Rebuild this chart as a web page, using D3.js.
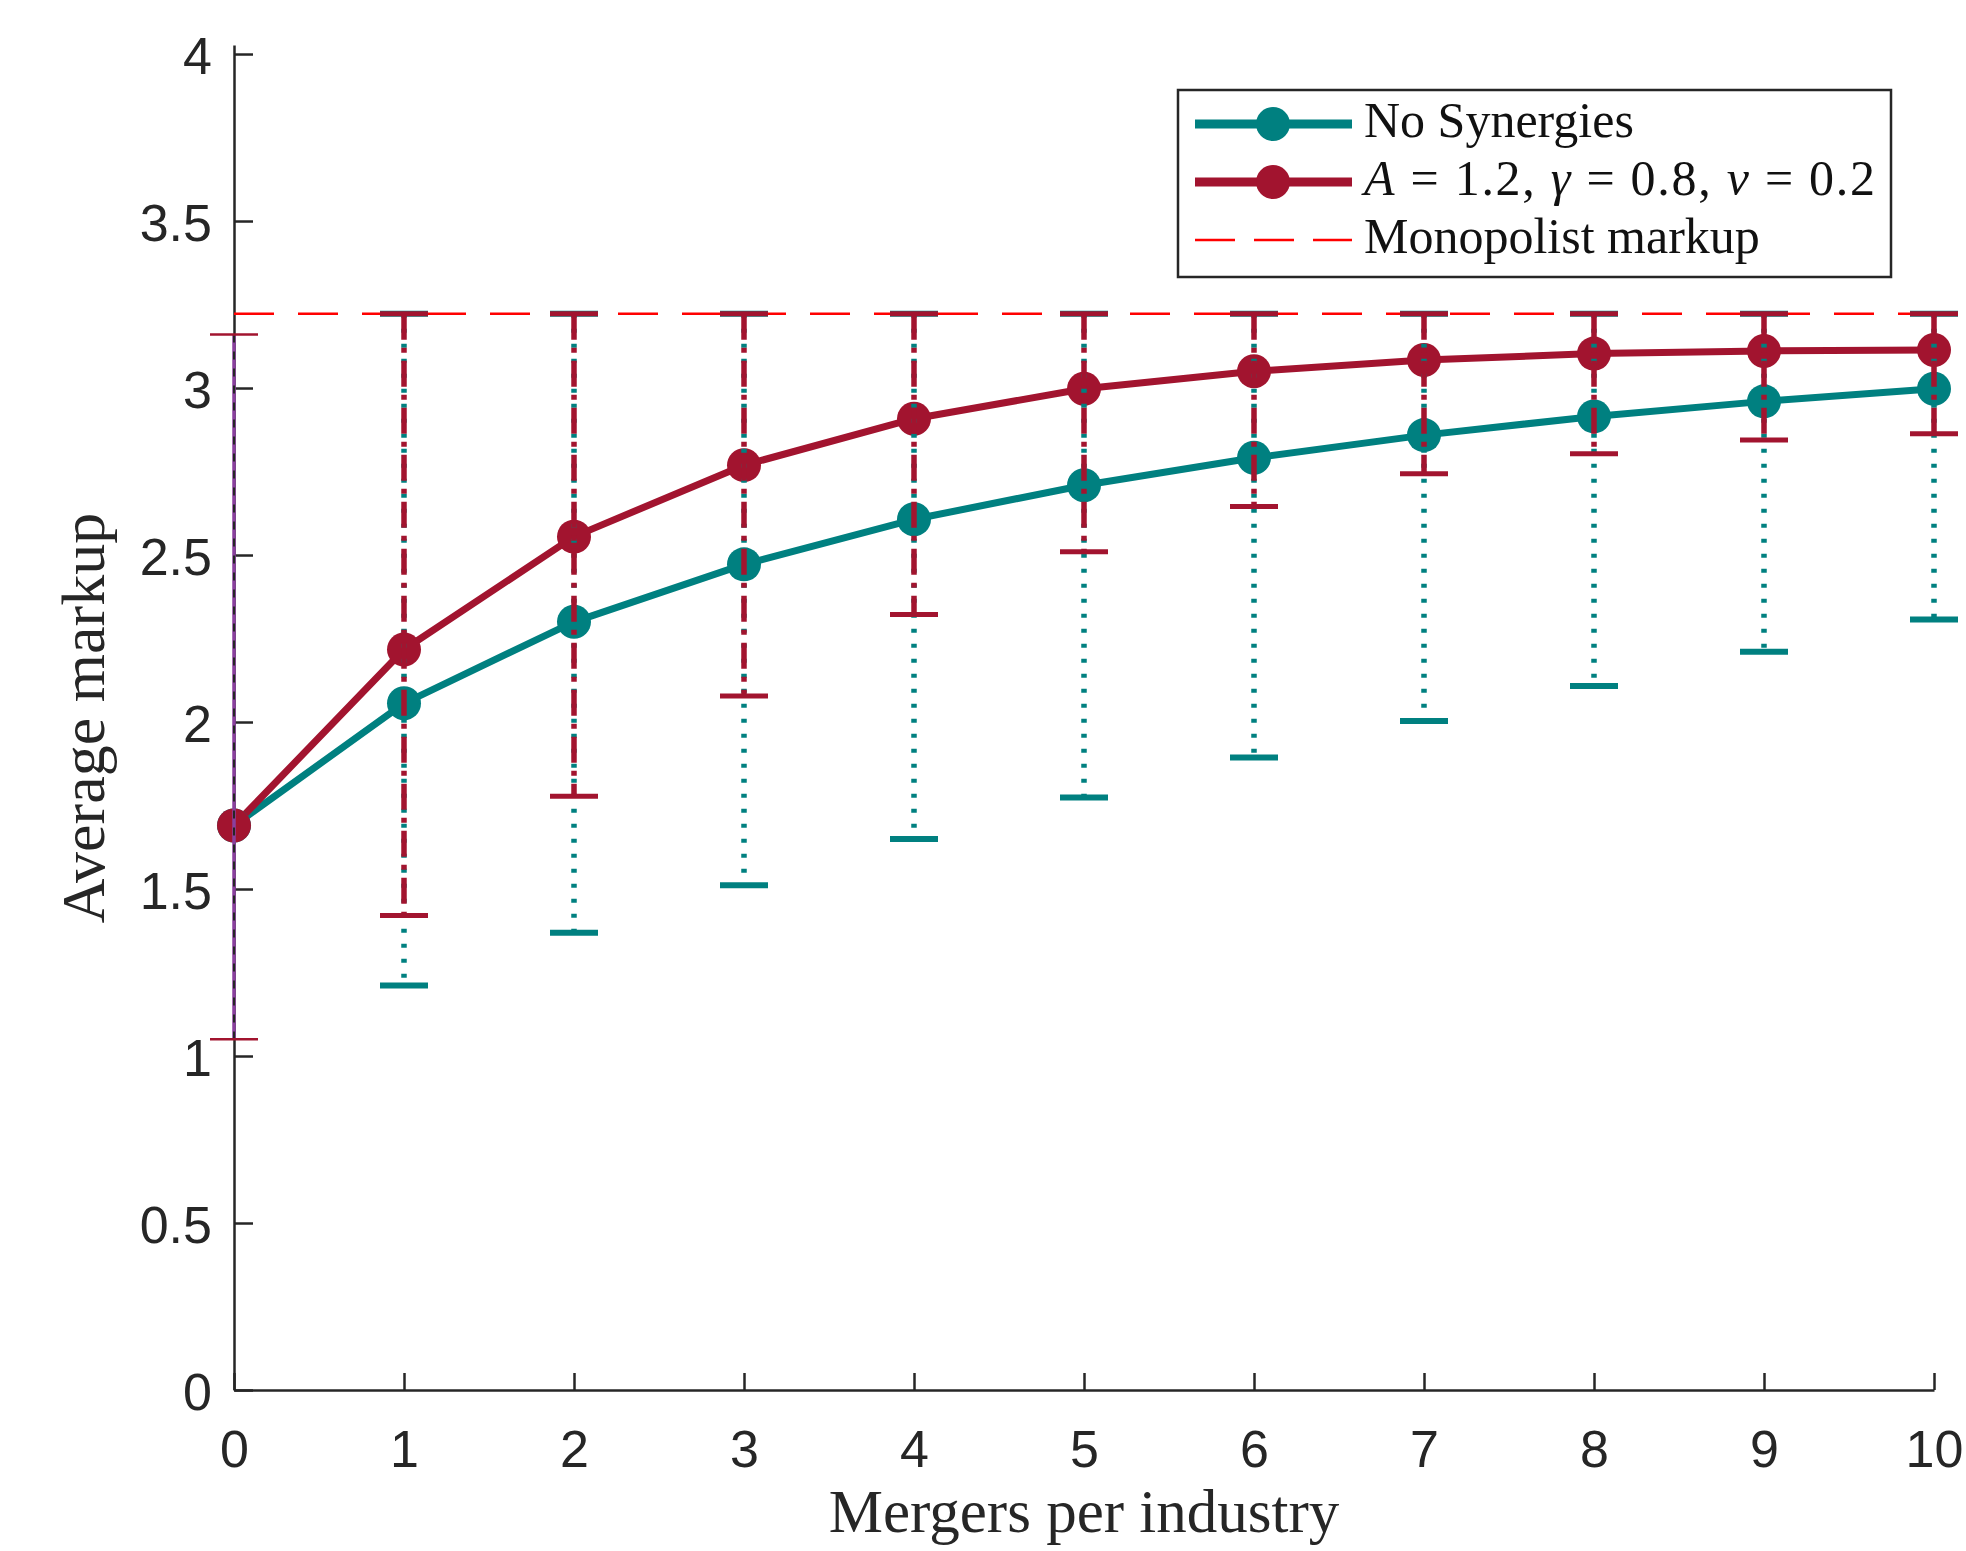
<!DOCTYPE html>
<html>
<head>
<meta charset="utf-8">
<script src="https://cdn.jsdelivr.net/npm/d3@7"></script>
<style>
  body { margin: 0; background: #fff; }
  svg { display: block; }
</style>
</head>
<body>
<svg id="chart" width="1966" height="1551"></svg>
<script>
// data
const mergers = [0, 1, 2, 3, 4, 5, 6, 7, 8, 9, 10];
const noSyn     = [1.69, 2.056, 2.300, 2.472, 2.607, 2.709, 2.791, 2.859, 2.915, 2.960, 2.998];
const noSynLow  = [1.05, 1.211, 1.369, 1.511, 1.650, 1.774, 1.894, 2.003, 2.108, 2.210, 2.307];
const noSynHigh = [3.16, 3.222, 3.222, 3.222, 3.222, 3.222, 3.222, 3.222, 3.222, 3.222, 3.222];
const syn     = [1.69, 2.217, 2.555, 2.769, 2.908, 2.998, 3.050, 3.084, 3.103, 3.111, 3.114];
const synLow  = [1.05, 1.421, 1.778, 2.078, 2.322, 2.510, 2.645, 2.743, 2.803, 2.844, 2.863];
const synHigh = [3.16, 3.222, 3.222, 3.222, 3.222, 3.222, 3.222, 3.222, 3.222, 3.222, 3.222];
const monopolist = 3.222;
const xTicks = [0, 1, 2, 3, 4, 5, 6, 7, 8, 9, 10];
const yTicks = [0, 0.5, 1, 1.5, 2, 2.5, 3, 3.5, 4];
const legendLabels = ["No Synergies", "A = 1.2, γ = 0.8, ν = 0.2", "Monopolist markup"];

const teal = "#008080", maroon = "#A2142F", red = "#FF0000", ink = "#262626";
const svg = d3.select("#chart");

const x = d3.scaleLinear().domain([0, 10]).range([234, 1934]);
const y = d3.scaleLinear().domain([0, 4.027]).range([1390, 45]);

svg.append("rect").attr("width", 1966).attr("height", 1551).attr("fill", "#fff");

// axes
const gx = svg.append("g").attr("transform", "translate(0,1390)")
  .call(d3.axisBottom(x).tickValues(xTicks).tickFormat(d3.format("d"))
    .tickSizeInner(-17).tickSizeOuter(0).tickPadding(40));
const gy = svg.append("g").attr("transform", "translate(234,0)")
  .call(d3.axisLeft(y).tickValues(yTicks).tickFormat(d => String(d))
    .tickSizeInner(-19).tickSizeOuter(0).tickPadding(22));

[gx, gy].forEach(g => {
  g.select(".domain").attr("stroke", ink).attr("stroke-width", 2.5);
  g.selectAll(".tick line").attr("stroke", ink).attr("stroke-width", 2.5);
  g.selectAll(".tick text")
    .attr("fill", ink)
    .attr("font-family", "'Liberation Sans', Arial, sans-serif")
    .attr("font-size", 52);
});
gy.selectAll(".tick text").attr("dy", "0.38em");

// axis titles
svg.append("text")
  .attr("x", (x(0) + x(10)) / 2).attr("y", 1532)
  .attr("text-anchor", "middle")
  .attr("font-family", "'Liberation Serif', 'Times New Roman', serif")
  .attr("font-size", 61).attr("fill", ink)
  .text("Mergers per industry");

svg.append("text")
  .attr("transform", "translate(104,718) rotate(-90)")
  .attr("text-anchor", "middle")
  .attr("font-family", "'Liberation Serif', 'Times New Roman', serif")
  .attr("font-size", 62).attr("fill", ink)
  .text("Average markup");

// lines
const line = vals => d3.line().x((d, i) => x(mergers[i])).y(d => y(d))(vals);
svg.append("path").attr("d", line(noSyn)).attr("fill", "none")
  .attr("stroke", teal).attr("stroke-width", 7).attr("stroke-linejoin", "round");
svg.append("path").attr("d", line(syn)).attr("fill", "none")
  .attr("stroke", maroon).attr("stroke-width", 7).attr("stroke-linejoin", "round");

svg.append("g").selectAll("circle").data(noSyn).join("circle")
  .attr("cx", (d, i) => x(mergers[i])).attr("cy", d => y(d)).attr("r", 17).attr("fill", teal);
svg.append("g").selectAll("circle").data(syn).join("circle")
  .attr("cx", (d, i) => x(mergers[i])).attr("cy", d => y(d)).attr("r", 17).attr("fill", maroon);

// monopolist markup
svg.append("line")
  .attr("x1", x(0)).attr("x2", x(10)).attr("y1", y(monopolist)).attr("y2", y(monopolist))
  .attr("stroke", red).attr("stroke-width", 2.5).attr("stroke-dasharray", "40,24");

// error bars
function errorBars(low, high, color, dash, capW) {
  const g = svg.append("g");
  const idx = mergers.slice(1).map((d, i) => i + 1);
  g.selectAll("line.v").data(idx).join("line").attr("class", "v")
    .attr("x1", i => x(mergers[i])).attr("x2", i => x(mergers[i]))
    .attr("y1", i => y(high[i])).attr("y2", i => y(low[i]))
    .attr("stroke", color).attr("stroke-width", 5.5).attr("stroke-dasharray", dash);
  ["low", "high"].forEach(k => {
    const arr = k === "low" ? low : high;
    g.selectAll("line." + k).data(idx).join("line").attr("class", k)
      .attr("x1", i => x(mergers[i]) - 24).attr("x2", i => x(mergers[i]) + 24)
      .attr("y1", i => y(arr[i])).attr("y2", i => y(arr[i]))
      .attr("stroke", color).attr("stroke-width", capW);
  });
}
errorBars(noSynLow, noSynHigh, teal, "4,11", 6);
errorBars(synLow, synHigh, maroon, "26,8,5,8", 5);

// overlapping bars at zero mergers
const x0 = x(mergers[0]);
svg.append("line").attr("x1", x0).attr("x2", x0)
  .attr("y1", y(synHigh[0])).attr("y2", y(synLow[0]))
  .attr("stroke", "#8a3f9e").attr("stroke-width", 3.5);
svg.append("line").attr("x1", x0).attr("x2", x0)
  .attr("y1", y(synHigh[0])).attr("y2", y(synLow[0]))
  .attr("stroke", ink).attr("stroke-width", 2).attr("stroke-dasharray", "8,9");
[synLow[0], synHigh[0]].forEach(v => {
  svg.append("line").attr("x1", x0 - 24).attr("x2", x0 + 24)
    .attr("y1", y(v)).attr("y2", y(v))
    .attr("stroke", maroon).attr("stroke-width", 2.5);
});

// legend
const lg = svg.append("g");
lg.append("rect").attr("x", 1178).attr("y", 90).attr("width", 713).attr("height", 187)
  .attr("fill", "#fff").attr("stroke", ink).attr("stroke-width", 2.5);
const rowY = [124, 182, 240];
const legendColors = [teal, maroon, red];
legendLabels.forEach((lab, i) => {
  const ly = rowY[i];
  if (i < 2) {
    lg.append("line").attr("x1", 1195).attr("x2", 1352).attr("y1", ly).attr("y2", ly)
      .attr("stroke", legendColors[i]).attr("stroke-width", 9);
    lg.append("circle").attr("cx", 1273).attr("cy", ly).attr("r", 17).attr("fill", legendColors[i]);
  } else {
    lg.append("line").attr("x1", 1195).attr("x2", 1352).attr("y1", ly).attr("y2", ly)
      .attr("stroke", red).attr("stroke-width", 2.5).attr("stroke-dasharray", "40,19");
  }
  const t = lg.append("text").attr("x", 1364).attr("y", ly + 13)
    .attr("font-family", "'Liberation Serif', 'Times New Roman', serif")
    .attr("font-size", 50).attr("fill", "#111");
  if (i === 1) {
    t.attr("textLength", 511).attr("lengthAdjust", "spacing");
    const parts = [["A", true], [" = 1.2, ", false], ["γ", true], [" = 0.8, ", false], ["ν", true], [" = 0.2", false]];
    parts.forEach(([s, it]) => t.append("tspan").attr("font-style", it ? "italic" : "normal").text(s));
  } else {
    t.text(lab);
  }
});
</script>
</body>
</html>
